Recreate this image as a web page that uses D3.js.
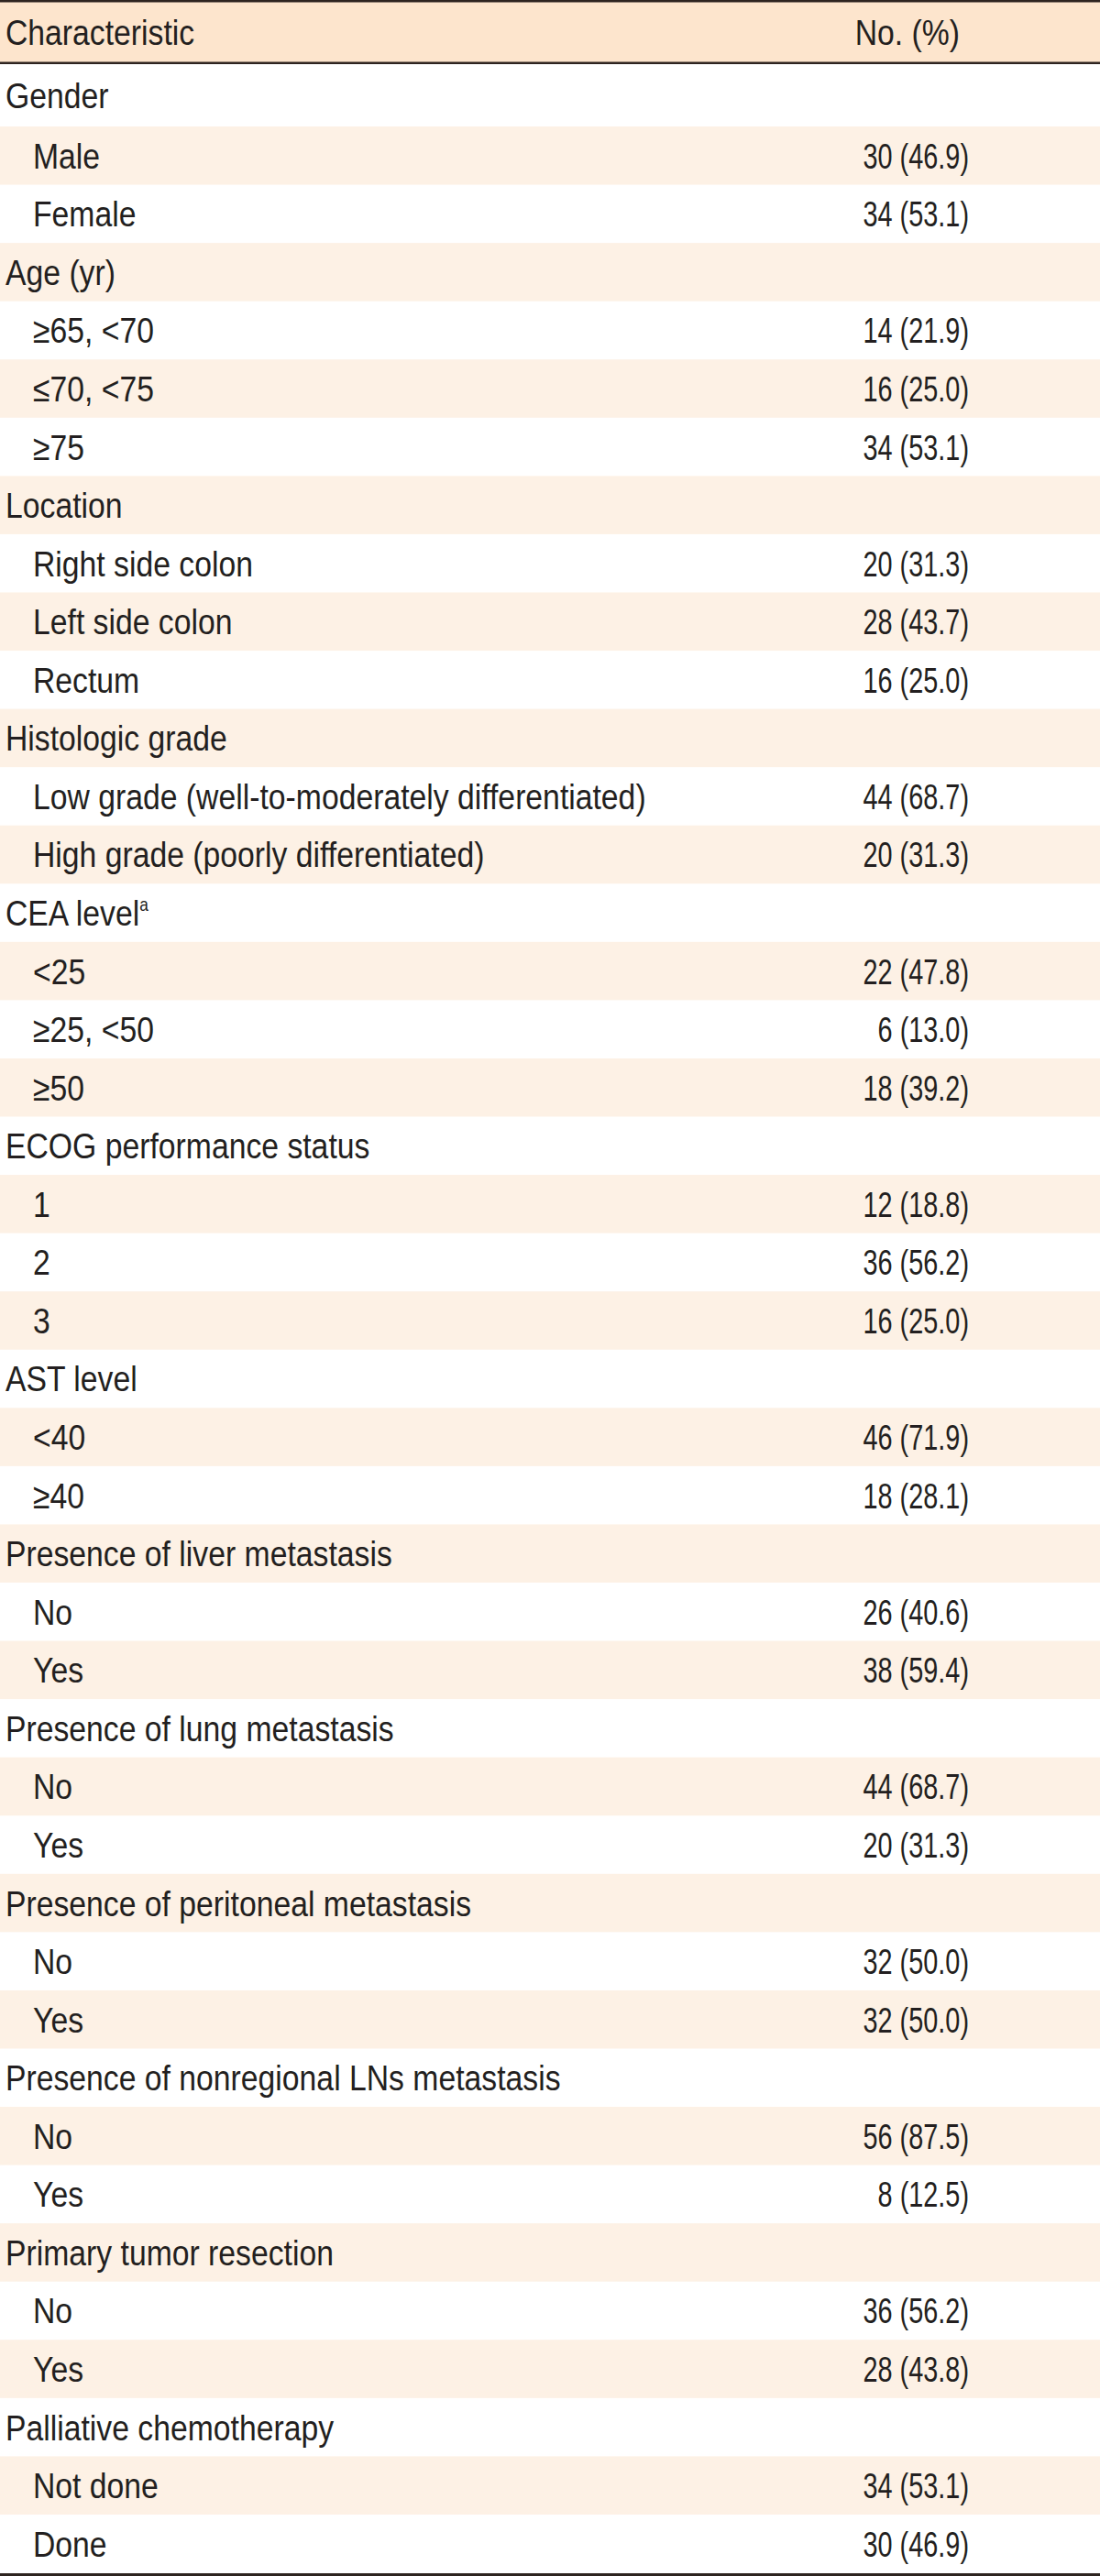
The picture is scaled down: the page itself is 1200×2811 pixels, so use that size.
<!DOCTYPE html>
<html>
<head>
<meta charset="utf-8">
<script src="https://cdn.jsdelivr.net/npm/d3@7"></script>
<style>
  html, body { margin: 0; padding: 0; background: #fff; }
  svg { display: block; }
  text { font-family: "Liberation Sans", Arial, sans-serif; fill: #231f20; }
</style>
</head>
<body>
<script>
const width = 1200, height = 2811;

// header labels
const headers = ["Characteristic", "No. (%)"];

// row labels (level 0 = group heading, level 1 = indented item)
const labels = [
  "Gender", "Male", "Female",
  "Age (yr)", "\u226565, <70", "\u226470, <75", "\u226575",
  "Location", "Right side colon", "Left side colon", "Rectum",
  "Histologic grade", "Low grade (well-to-moderately differentiated)", "High grade (poorly differentiated)",
  "CEA level", "<25", "\u226525, <50", "\u226550",
  "ECOG performance status", "1", "2", "3",
  "AST level", "<40", "\u226540",
  "Presence of liver metastasis", "No", "Yes",
  "Presence of lung metastasis", "No", "Yes",
  "Presence of peritoneal metastasis", "No", "Yes",
  "Presence of nonregional LNs metastasis", "No", "Yes",
  "Primary tumor resection", "No", "Yes",
  "Palliative chemotherapy", "Not done", "Done"
];
const levels = [
  0, 1, 1,
  0, 1, 1, 1,
  0, 1, 1, 1,
  0, 1, 1,
  0, 1, 1, 1,
  0, 1, 1, 1,
  0, 1, 1,
  0, 1, 1,
  0, 1, 1,
  0, 1, 1,
  0, 1, 1,
  0, 1, 1,
  0, 1, 1
];
const values = [
  "", "30 (46.9)", "34 (53.1)",
  "", "14 (21.9)", "16 (25.0)", "34 (53.1)",
  "", "20 (31.3)", "28 (43.7)", "16 (25.0)",
  "", "44 (68.7)", "20 (31.3)",
  "", "22 (47.8)", "6 (13.0)", "18 (39.2)",
  "", "12 (18.8)", "36 (56.2)", "16 (25.0)",
  "", "46 (71.9)", "18 (28.1)",
  "", "26 (40.6)", "38 (59.4)",
  "", "44 (68.7)", "20 (31.3)",
  "", "32 (50.0)", "32 (50.0)",
  "", "56 (87.5)", "8 (12.5)",
  "", "36 (56.2)", "28 (43.8)",
  "", "34 (53.1)", "30 (46.9)"
];
// footnote marks on labels
const notes = { "CEA level": "a" };

const rows = labels.map((label, i) => ({ label, level: levels[i], value: values[i], i }));
const n = rows.length;

const fontSize = 39;
const labelSqueeze = 0.865;   // condensed look
const valueSqueeze = 0.74;
const capShift = 0.716 * fontSize / 2;

// row edges: first body row starts right under the header rule
const y = d3.scaleLinear().domain([1, n]).range([138, 2807.5]);
const rowTop = i => i === 0 ? 70 : y(i);
const rowBottom = i => y(i + 1);
const rowMid = i => (rowTop(i) + rowBottom(i)) / 2;

const x = d3.scaleOrdinal().domain([0, 1]).range([6, 36]);
const valueRight = 1057;

const place = (tx, ty, s) => `translate(${tx},${ty}) scale(${s},1)`;

const svg = d3.select("body").append("svg")
  .attr("width", width)
  .attr("height", height);

// header band
svg.append("rect")
  .attr("x", 0).attr("y", 0)
  .attr("width", width).attr("height", 70)
  .attr("fill", "#fde5cd");

// zebra rows
svg.selectAll(".band")
  .data(rows.filter(d => d.i % 2 === 1))
  .enter().append("rect")
  .attr("class", "band")
  .attr("x", 0)
  .attr("y", d => rowTop(d.i))
  .attr("width", width)
  .attr("height", d => rowBottom(d.i) - rowTop(d.i))
  .attr("fill", "#fdf1e5");

// rules
const rules = [[0, 2.5], [67.5, 2.5], [2808, 3]];
svg.selectAll(".rule")
  .data(rules)
  .enter().append("rect")
  .attr("class", "rule")
  .attr("x", 0)
  .attr("y", d => d[0])
  .attr("width", width)
  .attr("height", d => d[1])
  .attr("fill", "#2e2420");

// header text
svg.append("text")
  .attr("transform", place(6, 35 + capShift, labelSqueeze))
  .attr("font-size", fontSize)
  .text(headers[0]);
svg.append("text")
  .attr("transform", place(1047, 35 + capShift, labelSqueeze))
  .attr("text-anchor", "end")
  .attr("font-size", fontSize)
  .text(headers[1]);

// labels
const lab = svg.selectAll(".label")
  .data(rows)
  .enter().append("text")
  .attr("class", "label")
  .attr("transform", d => place(x(d.level), rowMid(d.i) + capShift, labelSqueeze))
  .attr("font-size", fontSize)
  .text(d => d.label);

lab.filter(d => notes[d.label])
  .append("tspan")
  .attr("font-size", 20)
  .attr("dy", -16)
  .text(d => notes[d.label]);

// values
svg.selectAll(".value")
  .data(rows.filter(d => d.value))
  .enter().append("text")
  .attr("class", "value")
  .attr("transform", d => place(valueRight, rowMid(d.i) + capShift, valueSqueeze))
  .attr("text-anchor", "end")
  .attr("font-size", fontSize)
  .text(d => d.value);
</script>
</body>
</html>
